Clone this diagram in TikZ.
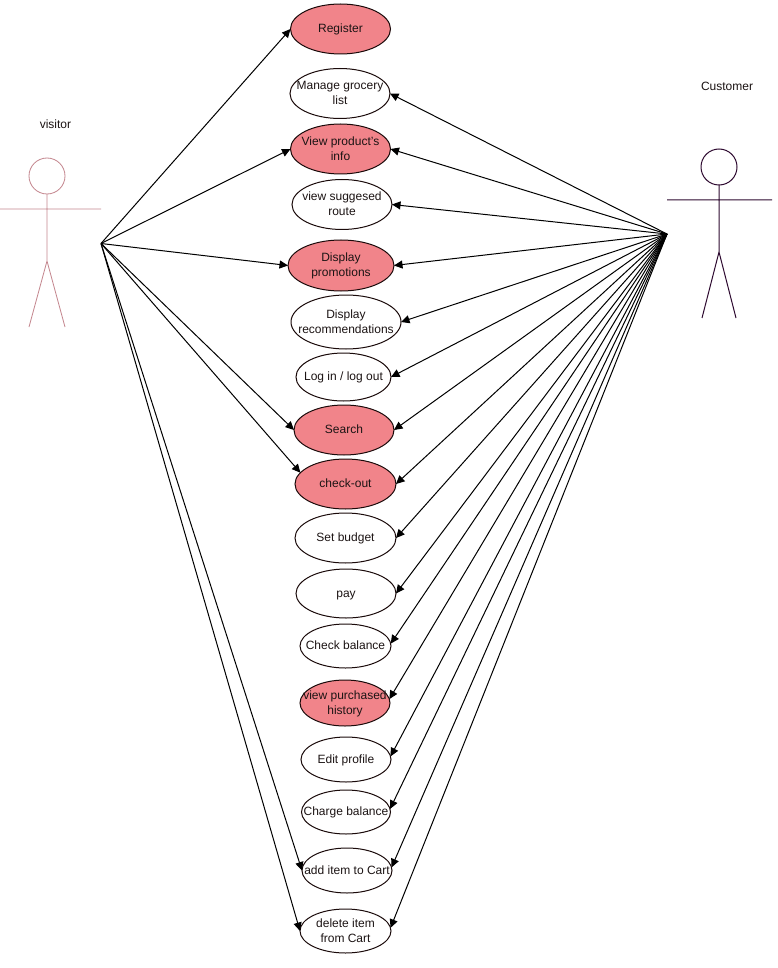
\documentclass[tikz,border=0pt]{standalone}
\usepackage{fontspec}
\setmainfont{Liberation Sans}
\usetikzlibrary{shapes.geometric,arrows.meta}
\definecolor{ucfill}{HTML}{F1848A}
\definecolor{ucline}{HTML}{1A0A0A}
\definecolor{uctext}{HTML}{1C1414}
\definecolor{visitorc}{HTML}{C4868E}
\definecolor{customerc}{HTML}{2E0A30}
\newcommand{\uclabel}[1]{\smash{\makebox[0pt]{\raisebox{-3.7pt}{\begin{tabular}[c]{@{}c@{}}#1\end{tabular}}}}}
\tikzset{
  uc/.style={ellipse,draw=ucline,line width=1pt,inner sep=0pt,outer sep=0pt,fill=white,text=uctext,
    font=\fontsize{12}{15}\selectfont},
  ucf/.style={uc,fill=ucfill},
  sz/.style 2 args={minimum width=#1pt,minimum height=#2pt},
  link/.style={draw=black,line width=1pt,-{Triangle[length=8.5pt,width=8pt]}},
  actorv/.style={draw=visitorc,line width=0.8pt},
  actorc/.style={draw=customerc,line width=1pt},
  actlabel/.style={font=\fontsize{12}{15}\selectfont,inner sep=0pt,text=uctext}
}
\begin{document}
\begin{tikzpicture}[x=1pt,y=-1pt]
\useasboundingbox (0,0) rectangle (778,968);
\fill[white] (0,0) rectangle (778,968);

% actors
\draw[actorv] (47,176) circle (18);
\draw[actorv] (47,194) -- (47,261) (0,209) -- (101,209) (29,327) -- (47,261) -- (65,327);
\draw[actorc] (719,167) circle (18);
\draw[actorc] (719,185) -- (719,252) (667,200) -- (772,200) (702,318) -- (719,252) -- (736,318);
\node[actlabel] (lv) at (55.5,124) {visitor};
\node[actlabel] (lc) at (727,86) {Customer};
\coordinate (v) at (101,243.5);
\coordinate (c) at (667,234);

% use cases
\node[ucf,sz={100}{50}] (reg) at (340.5,29) {\uclabel{Register}};
\node[uc,sz={100}{50}] (man) at (340,93.5) {\uclabel{Manage grocery\\list}};
\node[ucf,sz={100}{50}] (prod) at (340.5,149) {\uclabel{View product's\\info}};
\node[uc,sz={100}{50}] (route) at (342,204.5) {\uclabel{view suggesed\\route}};
\node[ucf,sz={106}{51}] (promo) at (341,265.5) {\uclabel{Display\\promotions}};
\node[uc,sz={110}{54}] (recs) at (346,322) {\uclabel{Display\\recommendations}};
\node[uc,sz={95}{48}] (log) at (343.5,377) {\uclabel{Log in / log out}};
\node[ucf,sz={100}{50}] (search) at (344,430) {\uclabel{Search}};
\node[ucf,sz={101}{50}] (check) at (345.5,484) {\uclabel{check-out}};
\node[uc,sz={101}{50}] (budget) at (345.5,538) {\uclabel{Set budget}};
\node[uc,sz={100}{49}] (pay) at (346,593.5) {\uclabel{pay}};
\node[uc,sz={91}{44}] (bal) at (345.5,646) {\uclabel{Check balance}};
\node[ucf,sz={90}{46}] (hist) at (345,703) {\uclabel{view purchased\\history}};
\node[uc,sz={90}{45}] (edit) at (346,759.5) {\uclabel{Edit profile}};
\node[uc,sz={89}{44}] (charge) at (346,812) {\uclabel{Charge balance}};
\node[uc,sz={90}{45}] (add) at (347,870.5) {\uclabel{add item to Cart}};
\node[uc,sz={91}{44}] (del) at (345.5,931) {\uclabel{delete item\\from Cart}};

% visitor links
\foreach \t in {reg.west,prod.west,promo.west,search.west,check.166,add.west,del.west}
  \draw[link] (v) -- (\t);
% customer links
\foreach \t in {man.east,prod.east,route.east,promo.east,recs.east,log.east,search.east,check.east,budget.east,pay.east,bal.3,hist.5,edit.4,charge.4,add.4,del.4}
  \draw[link] (c) -- (\t);
\end{tikzpicture}
\end{document}
